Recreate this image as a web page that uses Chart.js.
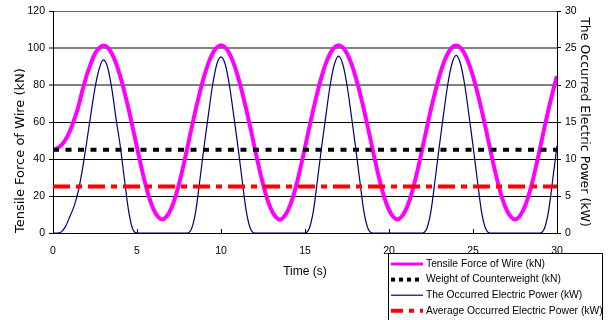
<!DOCTYPE html>
<html>
<head>
<meta charset="utf-8">
<script src="https://cdn.jsdelivr.net/npm/chart.js@4.4.0/dist/chart.umd.min.js"></script>
<style>
  html, body { margin: 0; padding: 0; background: #fff; }
  #wrap { width: 610px; height: 320px; }
</style>
</head>
<body>
<div id="wrap"><canvas id="chart" width="610" height="320"></canvas></div>
<script>
// sampling grid of the time axis (s), every 0.25 s from 0 to 30
const time = Array.from({ length: 121 }, (_, i) => i * 0.25);

// tensile force of wire (kN)
const tensile = [
  45, 45.8, 47.5, 50.5, 55, 61, 68, 77, 85, 91.5, 97, 100, 101.3,
  100.3, 97, 91.8, 84.8, 76.4, 67, 56.8, 46.2, 35.9, 26.5, 18.5, 12.5, 8.8, 7.3,
  8.8, 12.5, 18.5, 26.5, 35.9, 46.2, 56.8, 67, 76.4, 84.8, 91.8, 97, 100.3, 101.5,
  100.3, 97, 91.8, 84.8, 76.4, 67, 56.8, 46.2, 35.9, 26.5, 18.5, 12.5, 8.8, 7.2,
  8.8, 12.5, 18.5, 26.5, 35.9, 46.2, 56.8, 67, 76.4, 84.8, 91.8, 97, 100.3, 101.5,
  100.3, 97, 91.8, 84.8, 76.4, 67, 56.8, 46.2, 35.9, 26.5, 18.5, 12.5, 8.8, 7.3,
  8.8, 12.5, 18.5, 26.5, 35.9, 46.2, 56.8, 67, 76.4, 84.8, 91.8, 97, 100.3, 101.3,
  100.2, 96.9, 91.7, 84.7, 76.3, 67, 56.8, 46.2, 35.9, 26.5, 18.5, 12.5, 8.8, 7.3,
  8.8, 12.5, 18.5, 26.5, 35.9, 46.2, 56.8, 67, 76.4, 84.8
];

// occurred electric power (kW)
const power = [
  0, 0, 0.15, 0.9, 2.2, 3.6, 5.6, 8.6, 12.2, 16.0, 19.6, 22.2, 23.4,
  22.4, 19.5, 15.5, 11.8, 7.3, 3.0, 0.5, 0,
  0, 0, 0, 0, 0, 0, 0, 0, 0, 0, 0,
  0, 0.6, 3.0, 7.3, 11.8, 16.0, 20.0, 22.8, 23.8, 22.8, 20.0, 16.0, 11.8, 7.3, 3.0, 0.6, 0,
  0, 0, 0, 0, 0, 0, 0, 0, 0, 0, 0,
  0, 0.6, 3.0, 7.3, 11.8, 16.0, 20.0, 22.8, 23.9, 22.8, 20.0, 16.0, 11.8, 7.3, 3.0, 0.6, 0,
  0, 0, 0, 0, 0, 0, 0, 0, 0, 0, 0,
  0, 0.6, 3.0, 7.3, 11.8, 16.1, 20.1, 22.9, 24.0, 22.9, 20.1, 16.1, 11.8, 7.3, 3.0, 0.6, 0,
  0, 0, 0, 0, 0, 0, 0, 0, 0, 0, 0,
  0, 0.6, 3.0, 7.3, 11.8
];

// flat lines
const flatTime = [0, 30];
const counterweight = [45, 45];   // kN
const avgPower = [6.3, 6.3];      // kW

const seriesNames = [
  "Tensile Force of Wire (kN)",
  "Weight of Counterweight (kN)",
  "The Occurred Electric Power (kW)",
  "Average Occurred Electric Power (kW)"
];

const xTicks = [0, 5, 10, 15, 20, 25, 30];
const leftTicks = [0, 20, 40, 60, 80, 100, 120];
const rightTicks = [0, 5, 10, 15, 20, 25, 30];

const pts = (xs, ys) => ys.map((v, i) => ({ x: xs[i], y: v }));

const FONT = "'Liberation Sans', Arial, sans-serif";
Chart.defaults.font.family = FONT;
Chart.defaults.font.size = 11;
Chart.defaults.color = '#000';

const legendDash = [[], [4, 4], [], [12, 6, 5, 6]];
const legendWidth = [3, 4, 1.2, 4];

// legend box under the plot + inward tick marks on the time axis
const boxLegend = {
  id: 'boxLegend',
  afterDraw(chart) {
    const ctx = chart.ctx;
    const xs = chart.scales.x;
    const yb = chart.chartArea.bottom;
    ctx.save();
    ctx.strokeStyle = '#000';
    ctx.lineWidth = 1;
    ctx.setLineDash([]);
    xs.ticks.forEach(t => {
      const px = Math.round(xs.getPixelForValue(t.value)) + 0.5;
      ctx.beginPath();
      ctx.moveTo(px, yb);
      ctx.lineTo(px, yb - 4);
      ctx.stroke();
    });

    ctx.fillStyle = '#fff';
    ctx.fillRect(388.5, 253.5, 214, 70);
    ctx.strokeRect(388.5, 253.5, 214, 70);

    chart.data.datasets.forEach((ds, i) => {
      const y = 264 + i * 15.6;
      ctx.beginPath();
      ctx.setLineDash(legendDash[i]);
      ctx.strokeStyle = ds.borderColor;
      ctx.lineWidth = legendWidth[i];
      ctx.moveTo(391, y);
      ctx.lineTo(423, y);
      ctx.stroke();
      ctx.setLineDash([]);
      ctx.fillStyle = '#000';
      ctx.font = '10.3px ' + FONT;
      ctx.textBaseline = 'middle';
      ctx.fillText(ds.label, 426, y);
    });
    ctx.restore();
  }
};

new Chart(document.getElementById('chart'), {
  type: 'line',
  data: {
    datasets: [
      {
        label: seriesNames[0],
        data: pts(time, tensile),
        yAxisID: 'y',
        borderColor: '#ff00ff',
        borderWidth: 4,
        pointRadius: 0,
        cubicInterpolationMode: 'monotone',
        order: 4
      },
      {
        label: seriesNames[1],
        data: pts(flatTime, counterweight),
        yAxisID: 'y',
        borderColor: '#000000',
        borderWidth: 4,
        borderDash: [6, 6.5],
        borderCapStyle: 'butt',
        pointRadius: 0,
        order: 3
      },
      {
        label: seriesNames[2],
        data: pts(time, power),
        yAxisID: 'y2',
        borderColor: '#000080',
        borderWidth: 1.2,
        pointRadius: 0,
        cubicInterpolationMode: 'monotone',
        order: 2
      },
      {
        label: seriesNames[3],
        data: pts(flatTime, avgPower),
        yAxisID: 'y2',
        borderColor: '#ff0000',
        borderWidth: 4,
        borderDash: [17, 6, 6, 6],
        borderCapStyle: 'butt',
        pointRadius: 0,
        order: 1
      }
    ]
  },
  options: {
    responsive: false,
    animation: false,
    layout: { padding: { top: 11, left: 0, right: 0, bottom: 0 } },
    plugins: {
      legend: { display: false },
      tooltip: { enabled: false }
    },
    scales: {
      x: {
        type: 'linear',
        min: 0,
        max: 30,
        afterBuildTicks: s => { s.ticks = xTicks.map(v => ({ value: v })); },
        ticks: { padding: 12, color: '#000', font: { size: 10.5 } },
        grid: { display: false, drawTicks: false },
        border: { display: true, color: '#000', width: 1 },
        title: {
          display: true,
          text: 'Time (s)',
          color: '#000',
          font: { size: 12, family: FONT },
          padding: { top: 0, bottom: 41 }
        },
        afterFit: s => { s.height = 87; }
      },
      y: {
        position: 'left',
        min: 0,
        max: 120,
        afterBuildTicks: s => { s.ticks = leftTicks.map(v => ({ value: v })); },
        ticks: { padding: 4, color: '#000', font: { size: 10.5 } },
        grid: {
          color: c => (c.tick && c.tick.value >= 80 && c.tick.value < 120) ? '#808080' : (c.tick && c.tick.value == 120 ? '#666' : '#000'),
          lineWidth: c => (c.tick && c.tick.value >= 80 && c.tick.value < 120) ? 2 : 1,
          tickColor: '#000',
          tickWidth: 1,
          tickLength: 4
        },
        border: { display: true, color: '#000', width: 1 },
        title: {
          display: true,
          text: 'Tensile Force of Wire (kN)',
          align: 'start',
          color: '#000',
          font: { size: 13, family: "'DejaVu Sans', sans-serif" },
          padding: { top: 13, bottom: 0 }
        },
        afterFit: s => { s.width = 53; }
      },
      y2: {
        position: 'right',
        min: 0,
        max: 30,
        afterBuildTicks: s => { s.ticks = rightTicks.map(v => ({ value: v })); },
        ticks: { padding: 4, color: '#000', font: { size: 10.5 } },
        grid: { drawOnChartArea: false, color: '#000', tickLength: 4 },
        border: { display: true, color: '#000', width: 1 },
        title: {
          display: true,
          text: 'The Occurred Electric Power (kW)',
          color: '#000',
          font: { size: 12.5, family: "'DejaVu Sans', sans-serif" },
          padding: { top: 18, bottom: 0 }
        },
        afterFit: s => { s.width = 53; }
      }
    }
  },
  plugins: [boxLegend]
});
</script>
</body>
</html>
